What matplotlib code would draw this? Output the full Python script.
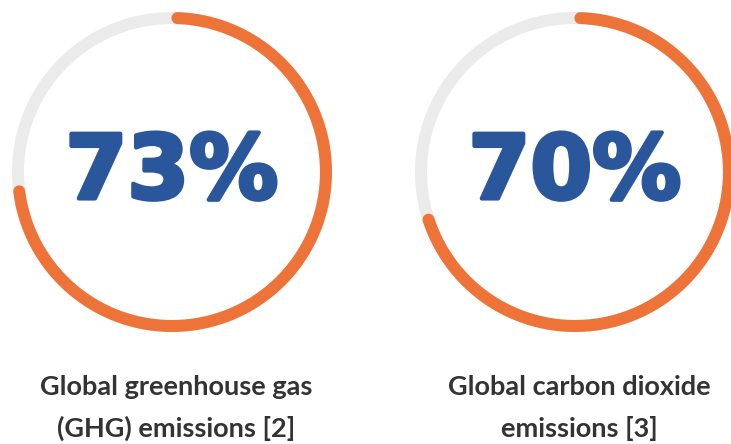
import numpy as np
import matplotlib
matplotlib.use("Agg")
import matplotlib.pyplot as plt
import matplotlib.patheffects as pe

# shares of global emissions
values = [73, 70]
value_labels = ["73%", "70%"]
captions = ["Global greenhouse gas\n(GHG) emissions [2]",
            "Global carbon dioxide\nemissions [3]"]

orange = "#EE7338"
track = "#EBEBEB"
blue = "#2A579B"
dark = "#333333"

fig = plt.figure(figsize=(7.31, 4.44), dpi=100)
ax = fig.add_axes([0, 0, 1, 1])
ax.set_xlim(0, 731)
ax.set_ylim(444, 0)
ax.set_aspect("equal")
ax.axis("off")

centers_x = [172, 575]
cy = 172
r = 154
lw = 12 * 72 / 100

for cx, v, lab, cap in zip(centers_x, values, value_labels, captions):
    # full grey track
    t = np.linspace(0, 2 * np.pi, 400)
    ax.plot(cx + r * np.sin(t), cy - r * np.cos(t), color=track, lw=lw,
            solid_capstyle="butt", zorder=1)
    # orange progress arc, clockwise from 12 o'clock
    t = np.linspace(np.deg2rad(2), 2 * np.pi * v / 100, 400)
    ax.plot(cx + r * np.sin(t), cy - r * np.cos(t), color=orange, lw=lw,
            solid_capstyle="round", zorder=2)
    ax.text(cx, cy + 2, lab, ha="center", va="center", color=blue,
            fontsize=64, fontweight="bold", family=["DejaVu Sans"],
            path_effects=[pe.withStroke(linewidth=3, foreground=blue)])
    ax.text(cx + 4, 408, cap, ha="center", va="center", color=dark,
            fontsize=19.5, fontweight="bold", linespacing=1.8,
            family=["Lato", "DejaVu Sans"])

fig.savefig("out.png", dpi=100, facecolor="white")
